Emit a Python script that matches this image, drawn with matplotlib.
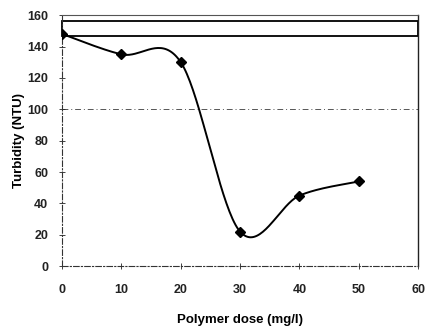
import numpy as np
import matplotlib
matplotlib.use('Agg')
import matplotlib.pyplot as plt
from matplotlib.patches import Rectangle

plt.rcParams['font.family'] = ['Liberation Sans', 'DejaVu Sans']

# polymer dose (mg/l) vs turbidity (NTU)
dose = [0, 10, 20, 30, 40, 50]
turbidity = [148, 135, 130, 22, 45, 54]
x_ticks = [0, 10, 20, 30, 40, 50, 60]
y_ticks = [0, 20, 40, 60, 80, 100, 120, 140, 160]


def smooth_curve(xs, ys, n=40):
    # bezier smoothing like the spreadsheet "smoothed line" option
    p = np.column_stack([xs, ys]).astype(float)
    out = []
    for i in range(len(p) - 1):
        p0 = p[i - 1] if i > 0 else p[i]
        p1 = p[i]
        p2 = p[i + 1]
        p3 = p[i + 2] if i + 2 < len(p) else p[i + 1]
        c1 = p1 + (p2 - p0) / 6
        c2 = p2 - (p3 - p1) / 6
        t = np.linspace(0, 1, n)[:, None]
        seg = ((1 - t) ** 3) * p1 + 3 * ((1 - t) ** 2) * t * c1 \
            + 3 * (1 - t) * t ** 2 * c2 + t ** 3 * p2
        out.append(seg)
    out = np.vstack(out)
    return out[:, 0], out[:, 1]


fig = plt.figure(figsize=(4.28, 3.29), dpi=100)
ax = fig.add_axes([0.145, 0.191, 0.832, 0.763])

sx, sy = smooth_curve(dose, turbidity)
ax.plot(sx, sy, color='black', lw=1.4, zorder=3)
ax.plot(dose, turbidity, linestyle='none', marker='D', ms=5, color='black', zorder=4)

ax.set_xlim(0, 60)
ax.set_ylim(0, 160)
ax.set_xticks(x_ticks)
ax.set_yticks(y_ticks)
ax.tick_params(axis='both', labelsize=9, length=4, width=0.6, colors='#222222',
               direction='inout')
for lab in ax.get_xticklabels() + ax.get_yticklabels():
    lab.set_fontweight('bold')
ax.tick_params(axis='x', pad=11)
ax.tick_params(axis='y', pad=8)

ax.axhline(100, color='#555555', lw=0.7, ls=(0, (6, 3, 1, 3)), zorder=1)

for side in ['left', 'bottom']:
    ax.spines[side].set_linestyle((0, (5, 2, 1, 2)))
    ax.spines[side].set_linewidth(0.8)
    ax.spines[side].set_color('#333333')
ax.spines['top'].set_color('#555555')
ax.spines['top'].set_linewidth(0.8)
ax.spines['right'].set_color('#222222')
ax.spines['right'].set_linewidth(1.0)

# empty box across the top of the plot
ax.add_patch(Rectangle((0, 147), 60, 9, fill=True, facecolor='white',
                       edgecolor='black', lw=1.3, zorder=2, clip_on=False))

ax.set_xlabel('Polymer dose (mg/l)', fontsize=9.5, fontweight='bold', labelpad=13)
ax.set_ylabel('Turbidity (NTU)', fontsize=9.5, fontweight='bold', labelpad=1.5)

fig.savefig('out.png', dpi=100)
